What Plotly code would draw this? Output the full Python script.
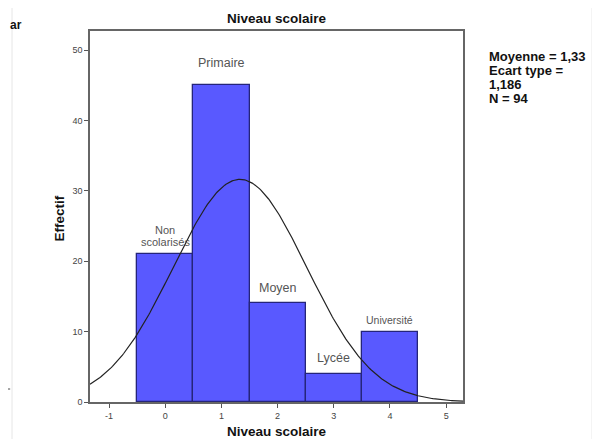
import numpy as np
import plotly.graph_objects as go

# Data
categories = [0, 1, 2, 3, 4]
counts = [21, 45, 14, 4, 10]
cat_labels = ["Non\nscolarisés", "Primaire", "Moyen", "Lycée", "Université"]
label_y = [23.6, 48.2, 16.2, 6.25, 11.65]
label_size = [11, 12.5, 12.5, 12.5, 10.5]
mean = 1.33
sd = 1.186
n = 94
stats_lines = ["Moyenne = 1,33", "Ecart type =", "1,186", "N = 94"]
x_ticks = [-1, 0, 1, 2, 3, 4, 5]
x_tick_text = ["-1", "0", "1", "2", "3", "4", "5"]
y_ticks = [0, 10, 20, 30, 40, 50]

FONT = "Liberation Sans, Arial"

fig = go.Figure()
fig.add_trace(go.Bar(
    x=categories, y=counts, width=1.0,
    marker=dict(color="#5959ff", line=dict(color="#25257a", width=1.3)),
    hoverinfo="skip",
))

xs = np.linspace(-1.34, 5.30, 300)
ys = n * 1.0 / (sd * np.sqrt(2 * np.pi)) * np.exp(-0.5 * ((xs - mean) / sd) ** 2)
fig.add_trace(go.Scatter(x=xs, y=ys, mode="lines",
                         line=dict(color="#222222", width=1.2), hoverinfo="skip"))

for c, lab, ly, fs in zip(categories, cat_labels, label_y, label_size):
    parts = lab.split("\n")
    k = len(parts)
    for i, p in enumerate(parts):
        fig.add_annotation(x=c, y=ly, text=p, showarrow=False, xref="x", yref="y",
                           yanchor="middle", yshift=(k - 1) * 6 - i * 12,
                           font=dict(family=FONT, size=fs, color="#555555"))

fig.add_annotation(xref="paper", yref="paper", x=0.5, y=1.0, yshift=13, yanchor="middle",
                   text="<b>Niveau scolaire</b>", showarrow=False,
                   font=dict(family=FONT, size=13.5, color="#111111"))

fig.add_annotation(xref="paper", yref="paper", x=0.5, y=0.0, yshift=-29, yanchor="middle",
                   text="<b>Niveau scolaire</b>", showarrow=False,
                   font=dict(family=FONT, size=13.5, color="#111111"))

fig.add_annotation(xref="paper", yref="paper", x=0.0, y=0.5, xshift=-31, yshift=-2,
                   xanchor="center", yanchor="middle", textangle=-90,
                   text="<b>Effectif</b>", showarrow=False,
                   font=dict(family=FONT, size=13.5, color="#111111"))

for i, line in enumerate(stats_lines):
    fig.add_annotation(xref="paper", yref="paper", x=1.0, y=1.0, xshift=24,
                       yshift=-25 - 14 * i, xanchor="left", yanchor="middle",
                       text="<b>" + line + "</b>", showarrow=False,
                       font=dict(family=FONT, size=13, color="#111111"))

fig.add_annotation(xref="paper", yref="paper", x=0, y=1.0, xshift=-82, yshift=6,
                   xanchor="left", yanchor="middle", text="<b>ar</b>", showarrow=False,
                   font=dict(family=FONT, size=12, color="#111111"))

fig.update_layout(
    width=600, height=439,
    margin=dict(l=82, r=145, t=23, b=45),
    paper_bgcolor="white", plot_bgcolor="white",
    showlegend=False, bargap=0,
    font=dict(family=FONT, color="#444444"),
    xaxis=dict(range=[-1.34, 5.30], tickvals=x_ticks, ticktext=x_tick_text,
               ticks="outside", ticklen=4, automargin=False,
               tickcolor="#555555", tickfont=dict(size=9, color="#444444"),
               showgrid=False, zeroline=False, showline=True, linecolor="#666666",
               linewidth=1.5, mirror=True),
    yaxis=dict(range=[0, 52.7], tickvals=y_ticks, ticks="outside", ticklen=4,
               automargin=False,
               tickcolor="#555555", tickfont=dict(size=9, color="#444444"),
               showgrid=False, zeroline=False, showline=True, linecolor="#666666",
               linewidth=1.5, mirror=True),
    shapes=[
        dict(type="line", xref="paper", yref="paper", x0=-0.209, x1=-0.209, y0=-0.2, y1=1.2,
             line=dict(color="#e6e6e6", width=1)),
        dict(type="line", xref="paper", yref="paper", x0=1.346, x1=1.346, y0=-0.2, y1=1.2,
             line=dict(color="#e6e6e6", width=1)),
        dict(type="line", xref="paper", yref="paper", x0=-0.241, x1=-0.214, y0=0.035, y1=0.035,
             line=dict(color="#888888", width=1.5)),
    ],
)

fig.write_html("out.html")
